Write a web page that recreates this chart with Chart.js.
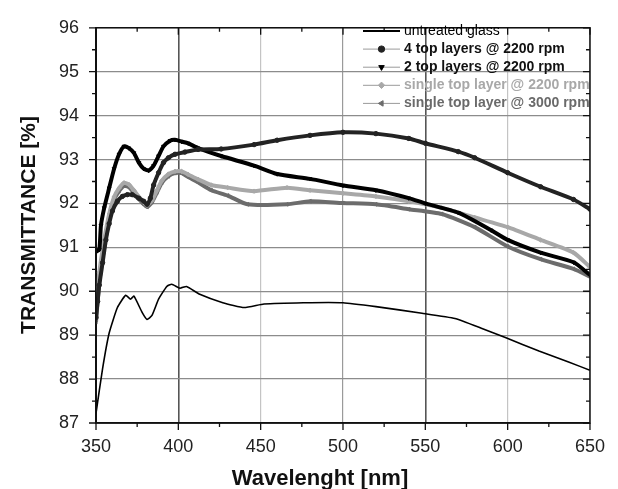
<!DOCTYPE html>
<html>
<head>
<meta charset="utf-8">
<script src="https://cdn.jsdelivr.net/npm/chart.js@4/dist/chart.umd.min.js"></script>
<style>
  html, body { margin: 0; padding: 0; background: #fff; overflow: hidden; }
  #chart { display: block; }
</style>
</head>
<body>
<canvas id="chart" width="618" height="489"></canvas>
<script>
// ============================================================
// TRANSMITTANCE vs WAVELENGTH
// ============================================================

const seriesLabels = [
  "untreated glass",
  "4 top layers @ 2200 rpm",
  "2 top layers @ 2200 rpm",
  "single top layer @ 2200 rpm",
  "single top layer @ 3000 rpm"
];

const untreatedNm = [350, 354, 358, 363, 368, 371, 373, 378, 381, 384, 388, 393, 396, 401, 405, 413, 427, 440, 452, 476, 500, 520, 548, 568, 584, 599, 619, 637, 650];
const untreatedT = [87.22, 88.24, 89.05, 89.63, 89.91, 89.82, 89.89, 89.52, 89.36, 89.45, 89.82, 90.11, 90.16, 90.07, 90.11, 89.93, 89.74, 89.63, 89.71, 89.74, 89.74, 89.65, 89.5, 89.38, 89.16, 88.94, 88.64, 88.39, 88.2];

const fourTopNm = [350, 351, 352, 354, 356, 358, 360, 363, 366, 369, 372, 376, 379, 381, 383, 385, 388, 391, 394, 398, 404, 412, 426, 446, 460, 480, 500, 520, 540, 550, 570, 580, 600, 620, 640, 650];
const fourTopT = [89.4, 89.77, 90.14, 90.65, 91.17, 91.54, 91.83, 92.05, 92.16, 92.2, 92.2, 92.12, 92.05, 91.98, 92.12, 92.42, 92.7, 92.93, 93.04, 93.12, 93.17, 93.23, 93.24, 93.34, 93.44, 93.55, 93.62, 93.59, 93.48, 93.37, 93.18, 93.04, 92.7, 92.38, 92.09, 91.87];

const twoTopNm = [350, 352, 353, 355, 358, 361, 364, 367, 370, 373, 376, 379, 382, 385, 388, 391, 395, 398, 402, 406, 412, 426, 446, 460, 480, 500, 520, 540, 550, 570, 590, 600, 620, 640, 650];
const twoTopT = [90.9, 90.95, 91.5, 91.9, 92.35, 92.79, 93.12, 93.3, 93.26, 93.15, 92.93, 92.79, 92.75, 92.86, 93.08, 93.3, 93.43, 93.45, 93.41, 93.37, 93.26, 93.08, 92.86, 92.67, 92.56, 92.41, 92.3, 92.12, 92.0, 91.79, 91.39, 91.17, 90.88, 90.66, 90.37];

const single2200Nm = [350, 352, 355, 358, 361, 364, 367, 370, 373, 376, 379, 381, 384, 387, 390, 394, 398, 402, 406, 412, 420, 430, 446, 466, 480, 500, 520, 540, 560, 580, 600, 620, 640, 650];
const single2200T = [89.7, 90.43, 91.17, 91.76, 92.15, 92.35, 92.47, 92.43, 92.3, 92.15, 92.03, 91.96, 92.07, 92.3, 92.52, 92.67, 92.73, 92.73, 92.66, 92.55, 92.42, 92.36, 92.28, 92.36, 92.3, 92.23, 92.16, 92.05, 91.9, 91.68, 91.46, 91.17, 90.88, 90.55];

const single3000Nm = [350, 352, 355, 358, 361, 364, 367, 370, 373, 376, 379, 381, 384, 387, 390, 394, 398, 402, 406, 412, 420, 430, 442, 466, 480, 500, 520, 540, 560, 580, 600, 620, 640, 650];
const single3000T = [89.3, 90.2, 91.0, 91.65, 92.08, 92.28, 92.4, 92.37, 92.24, 92.1, 91.98, 91.92, 92.03, 92.25, 92.47, 92.62, 92.69, 92.69, 92.6, 92.48, 92.3, 92.18, 91.98, 91.98, 92.05, 92.01, 91.98, 91.87, 91.76, 91.46, 91.02, 90.73, 90.51, 90.33];

const xTicks = [350, 400, 450, 500, 550, 600, 650];
const yTicks = [87, 88, 89, 90, 91, 92, 93, 94, 95, 96];

// ============================================================
// HELPERS
// ============================================================

const FONT = "'Liberation Sans', Arial, sans-serif";

function toPoints(nm, t) {
  return nm.map((x, i) => ({ x, y: t[i] }));
}

function markerSeries(label, nm, t, color, style, rotation, legendText) {
  return {
    label,
    data: toPoints(nm, t),
    borderColor: color,
    backgroundColor: color,
    borderWidth: 4,
    pointStyle: style,
    pointRotation: rotation,
    pointRadius: 2.2,
    pointBorderWidth: 1,
    tension: 0.2,
    legendText
  };
}

// vertical grid shade per wavelength
function xGridColor(value) {
  if (value === 400 || value === 550) return "#555";
  if (value === 500) return "#9a9a9a";
  return "#c4c4c4";
}

// ============================================================
// PLUGINS: frame + ticks, legend inside plot, axis titles
// ============================================================

const frameTicks = {
  id: "frameTicks",
  afterDatasetsDraw(chart) {
    const { ctx, chartArea: a, scales } = chart;
    ctx.save();
    ctx.strokeStyle = "#111";
    ctx.lineWidth = 1.5;
    ctx.beginPath();
    ctx.rect(a.left, a.top, a.right - a.left, a.bottom - a.top);
    ctx.stroke();

    ctx.lineWidth = 1.3;
    ctx.beginPath();
    for (let v = 350; v <= 650; v += 25) {
      const px = scales.x.getPixelForValue(v);
      const len = v % 50 === 0 ? 7 : 4;
      ctx.moveTo(px, a.bottom);
      ctx.lineTo(px, a.bottom + len);
      ctx.moveTo(px, a.top);
      ctx.lineTo(px, a.top + len);
    }
    for (let v = 87; v <= 96; v += 0.5) {
      const py = scales.y.getPixelForValue(v);
      const len = v % 1 === 0 ? 7 : 4;
      ctx.moveTo(a.left, py);
      ctx.lineTo(a.left - len, py);
      ctx.moveTo(a.right, py);
      ctx.lineTo(a.right - len, py);
    }
    ctx.stroke();
    ctx.restore();
  }
};

const insideLegend = {
  id: "insideLegend",
  afterDraw(chart) {
    const { ctx } = chart;
    const lineX0 = 363;
    const lineX1 = 400;
    const textX = 404;
    let y = 31;

    ctx.save();
    chart.data.datasets.forEach((ds, i) => {
      if (i === 0) {
        ctx.strokeStyle = "#000";
        ctx.lineWidth = 2;
      } else {
        ctx.strokeStyle = "#9a9a9a";
        ctx.lineWidth = 1;
      }
      ctx.beginPath();
      ctx.moveTo(lineX0, y);
      ctx.lineTo(lineX1, y);
      ctx.stroke();

      if (i > 0) {
        ctx.fillStyle = ds.borderColor;
        ctx.strokeStyle = ds.borderColor;
        Chart.helpers.drawPoint(ctx, {
          pointStyle: ds.pointStyle,
          rotation: ds.pointRotation,
          radius: 3.2,
          borderWidth: 1
        }, (lineX0 + lineX1) / 2, y);
      }

      ctx.fillStyle = ds.legendText;
      ctx.font = (i === 0 ? "" : "bold ") + "14px " + FONT;
      ctx.textBaseline = "middle";
      ctx.textAlign = "left";
      ctx.fillText(ds.label, textX, y);
      y += 18.1;
    });
    ctx.restore();
  }
};

const axisTitles = {
  id: "axisTitles",
  afterDraw(chart) {
    const { ctx } = chart;
    ctx.save();
    ctx.fillStyle = "#111";
    ctx.font = "bold 22px " + FONT;
    ctx.textAlign = "center";
    ctx.textBaseline = "alphabetic";
    ctx.fillText("Wavelenght [nm]", 320, 485);

    ctx.translate(35, 225);
    ctx.rotate(-Math.PI / 2);
    ctx.font = "bold 21px " + FONT;
    ctx.fillText("TRANSMITTANCE [%]", 0, 0);
    ctx.restore();
  }
};

// ============================================================
// CHART
// ============================================================

const datasets = [
  {
    label: seriesLabels[0],
    data: toPoints(untreatedNm, untreatedT),
    borderColor: "#000",
    backgroundColor: "#000",
    borderWidth: 1.6,
    pointRadius: 0,
    tension: 0.15,
    legendText: "#000"
  },
  markerSeries(seriesLabels[1], fourTopNm, fourTopT, "#232323", "circle", 0, "#111"),
  markerSeries(seriesLabels[2], twoTopNm, twoTopT, "#000", "triangle", 180, "#111"),
  markerSeries(seriesLabels[3], single2200Nm, single2200T, "#a8a8a8", "rectRot", 0, "#a8a8a8"),
  markerSeries(seriesLabels[4], single3000Nm, single3000T, "#6c6c6c", "triangle", -90, "#6a6a6a")
];

new Chart(document.getElementById("chart"), {
  type: "line",
  data: { datasets },
  plugins: [frameTicks, insideLegend, axisTitles],
  options: {
    responsive: false,
    animation: false,
    devicePixelRatio: 1,
    layout: { padding: { top: 14, right: 21.5, left: 0, bottom: 0 } },
    plugins: {
      legend: { display: false },
      tooltip: { enabled: false }
    },
    scales: {
      x: {
        type: "linear",
        min: 350,
        max: 650,
        afterBuildTicks: scale => {
          scale.ticks = xTicks.map(value => ({ value }));
        },
        afterFit: scale => { scale.height = 66; },
        grid: {
          drawTicks: false,
          lineWidth: ctx => (ctx.tick && (ctx.tick.value === 400 || ctx.tick.value === 550) ? 1.6 : 1.2),
          color: ctx => xGridColor(ctx.tick ? ctx.tick.value : 0)
        },
        border: { display: true, color: "#111", width: 1.5 },
        ticks: {
          padding: 13,
          color: "#222",
          font: { family: FONT, size: 18 }
        }
      },
      y: {
        min: 87,
        max: 96,
        afterBuildTicks: scale => {
          scale.ticks = yTicks.map(value => ({ value }));
        },
        afterFit: scale => { scale.width = 96; },
        grid: {
          drawTicks: false,
          lineWidth: 1.2,
          color: "#8c8c8c"
        },
        border: { display: true, color: "#111", width: 2 },
        ticks: {
          padding: 17,
          color: "#222",
          font: { family: FONT, size: 18 }
        }
      }
    }
  }
});
</script>
</body>
</html>
